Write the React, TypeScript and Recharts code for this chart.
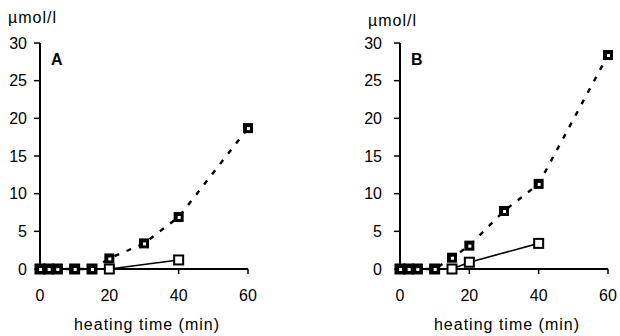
import React from 'react';
import { LineChart, Line, XAxis, YAxis } from 'recharts';

// heating time (min)
const timesLong = [0, 2.5, 5, 10, 15, 20, 30, 40, 60];
const timesShort = [0, 2.5, 5, 10, 15, 20, 40];

// panel A
const aDashed = [0, 0, 0, 0, 0, 1.4, 3.4, 6.9, 18.7];
const aSolid = [0, 0, 0, 0, 0, 0, 1.2];

// panel B
const bDashed = [0, 0, 0, 0, 1.5, 3.1, 7.7, 11.3, 28.4];
const bSolid = [0, 0, 0, 0, 0, 0.9, 3.4];

const yTicks = [0, 5, 10, 15, 20, 25, 30];
const xTicks = [0, 20, 40, 60];

const toRows = (xs: number[], ys: number[]) => xs.map((t, i) => ({ t, v: ys[i] }));

const font = 'Liberation Sans, Arial, sans-serif';

const FilledSquare = (props: any) => {
  const { cx, cy, index } = props;
  if (cx == null || cy == null) return null;
  return (
    <g key={`f${index}`}>
      <rect x={cx - 5} y={cy - 5} width={10} height={10} fill="#000" />
      <rect x={cx - 1} y={cy - 1} width={3} height={3} fill="#fff" />
    </g>
  );
};

const OpenSquare = (props: any) => {
  const { cx, cy, index } = props;
  if (cx == null || cy == null) return null;
  return (
    <rect key={`o${index}`} x={cx - 4.5} y={cy - 4.5} width={9} height={9} fill="#fff" stroke="#000" strokeWidth={2} />
  );
};

function Panel({ dashed, solid, letter, left, marginLeft, unitTop, yGap }: any) {
  const tickStyle = { fill: '#000', fontSize: 16, fontFamily: font };
  return (
    <div style={{ position: 'absolute', left, top: 0, width: 310, height: 336 }}>
      <LineChart width={310} height={336} margin={{ top: 43, right: 62 - marginLeft, bottom: 7, left: marginLeft }}>
        <XAxis
          dataKey="t"
          type="number"
          domain={[0, 60]}
          ticks={xTicks}
          allowDuplicatedCategory={false}
          height={60}
          axisLine={{ stroke: '#000', strokeWidth: 2 }}
          tickLine={{ stroke: '#000', strokeWidth: 1.5 }}
          tickSize={5}
          tickMargin={16}
          tick={tickStyle}
          label={{ value: 'heating time (min)', position: 'insideBottom', offset: -1, dx: 3, fill: '#000', fontSize: 16, fontFamily: font, letterSpacing: 1 }}
        />
        <YAxis
          type="number"
          domain={[0, 30]}
          ticks={yTicks}
          width={40}
          axisLine={{ stroke: '#000', strokeWidth: 2 }}
          tickLine={{ stroke: '#000', strokeWidth: 1.5 }}
          tickSize={6}
          tickMargin={yGap}
          tick={tickStyle}
        />
        <Line
          data={toRows(timesShort, solid)}
          dataKey="v"
          stroke="#000"
          strokeWidth={1.6}
          dot={OpenSquare}
          activeDot={false}
          isAnimationActive={false}
        />
        <Line
          data={toRows(timesLong, dashed)}
          dataKey="v"
          stroke="#000"
          strokeWidth={2.4}
          strokeDasharray="5 8"
          dot={FilledSquare}
          activeDot={false}
          isAnimationActive={false}
        />
      </LineChart>
      <div style={{ position: 'absolute', left: marginLeft + 8, top: unitTop, fontFamily: font, fontSize: 16, lineHeight: '16px', letterSpacing: 1 }}>µmol/l</div>
      <div style={{ position: 'absolute', left: marginLeft + 51, top: 52, fontFamily: font, fontSize: 16, lineHeight: '16px', fontWeight: 'bold' }}>{letter}</div>
    </div>
  );
}

export default function App() {
  return (
    <div style={{ position: 'absolute', left: 0, top: 0, width: 620, height: 336, background: '#fff' }}>
      <Panel dashed={aDashed} solid={aSolid} letter="A" left={0} marginLeft={0} unitTop={10} yGap={7} />
      <Panel dashed={bDashed} solid={bSolid} letter="B" left={310} marginLeft={50} unitTop={13} yGap={12} />
    </div>
  );
}
